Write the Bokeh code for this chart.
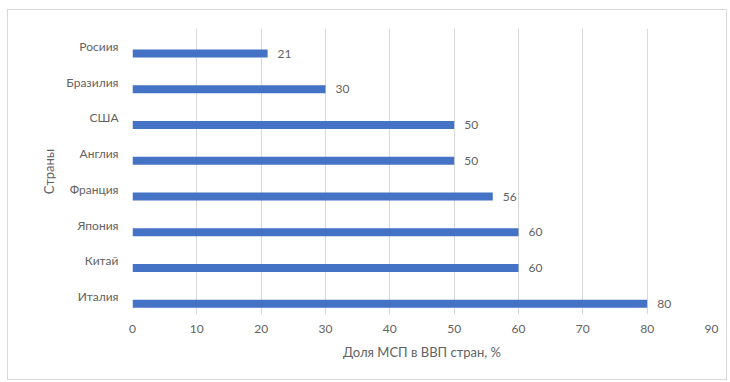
from bokeh.plotting import figure
from bokeh.models import ColumnDataSource, FactorRange, Range1d, FixedTicker
from bokeh.transform import dodge
from bokeh.core.properties import value
from bokeh.embed import file_html
from bokeh.resources import INLINE

# Share of SMEs in GDP by country, top to bottom
countries = ["Росиия", "Бразилия", "США", "Англия", "Франция", "Япония", "Китай", "Италия"]
shares = [21, 30, 50, 50, 56, 60, 60, 80]
x_ticks = [0, 10, 20, 30, 40, 50, 60, 70, 80, 90]

FONT = "Lato"
GREY = "#626262"

src = ColumnDataSource(dict(
    country=countries,
    share=shares,
    label=[str(v) for v in shares],
))

# categorical axis lists factors bottom-up
y_range = FactorRange(factors=list(reversed(countries)), range_padding=0)

p = figure(
    width=720, height=371,
    y_range=y_range, x_range=Range1d(0, 90),
    output_backend="svg", toolbar_location=None,
    min_border_left=124, min_border_right=17,
    min_border_top=18, min_border_bottom=67,
)
p.margin = (9, 3, 2, 7)
p.styles = {"border": "1px solid #d9d9d9", "box-sizing": "border-box"}
p.outline_line_color = None

ypos = dodge("country", -0.2, range=y_range)
p.hbar(y=ypos, right="share", left=0, height=0.22, source=src,
       fill_color="#4472C4", line_color=None)
p.text(x="share", y=ypos, text="label", source=src,
       x_offset=10, text_baseline="middle", text_align="left",
       text_font=value(FONT), text_font_size="12px", text_color=GREY)

# value axis
p.xaxis.ticker = FixedTicker(ticks=x_ticks)
p.xaxis.axis_line_color = None
p.xaxis.major_tick_line_color = None
p.xaxis.minor_tick_line_color = None
p.xaxis.major_label_text_font = FONT
p.xaxis.major_label_text_font_size = "12px"
p.xaxis.major_label_text_color = GREY
p.xaxis.major_label_standoff = 4
p.xaxis.axis_label = "Доля МСП в ВВП стран, %"
p.xaxis.axis_label_text_font = FONT
p.xaxis.axis_label_text_font_size = "13px"
p.xaxis.axis_label_text_font_style = "normal"
p.xaxis.axis_label_text_color = GREY
p.xaxis.axis_label_standoff = 8

# category axis
p.yaxis.axis_line_color = None
p.yaxis.major_tick_line_color = None
p.yaxis.minor_tick_line_color = None
p.yaxis.major_label_text_font = FONT
p.yaxis.major_label_text_font_size = "12px"
p.yaxis.major_label_text_color = GREY
p.yaxis.major_label_standoff = 8
p.yaxis.axis_label = "Страны"
p.yaxis.axis_label_text_font = FONT
p.yaxis.axis_label_text_font_size = "13px"
p.yaxis.axis_label_text_font_style = "normal"
p.yaxis.axis_label_text_color = GREY
p.yaxis.axis_label_standoff = 6

p.xgrid.grid_line_color = "#d9d9d9"
p.ygrid.grid_line_color = None

open("out.html", "w").write(file_html(p, INLINE))
